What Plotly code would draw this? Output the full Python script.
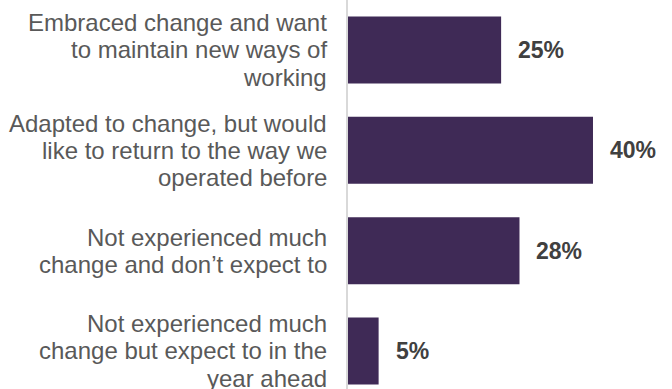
import plotly.graph_objects as go

categories = [
    "Embraced change and want<br>to maintain new ways of<br>working",
    "Adapted to change, but would<br>like to return to the way we<br>operated before",
    "Not experienced much<br>change and don\u2019t expect to",
    "Not experienced much<br>change but expect to in the<br>year ahead",
]
values = [25, 40, 28, 5]
value_labels = ["25%", "40%", "28%", "5%"]

BAR_COLOR = "#3f2a56"
LABEL_COLOR = "#595959"
VALUE_COLOR = "#404040"
FONT = "Liberation Sans, Arial, sans-serif"
LABEL_SIZE = 24
LINE_STEP = 27.2

fig = go.Figure()
fig.add_trace(go.Bar(
    x=values,
    y=categories,
    orientation="h",
    marker=dict(color=BAR_COLOR, line=dict(width=0)),
    hoverinfo="skip",
))

# value labels
for cat, v, lab in zip(categories, values, value_labels):
    fig.add_annotation(
        x=v, y=cat, xref="x", yref="y",
        text="<b>" + lab + "</b>",
        showarrow=False, xanchor="left", yanchor="middle",
        xshift=15,
        font=dict(family=FONT, size=23, color=VALUE_COLOR),
    )

# category labels, one annotation per line for tighter line spacing
for cat in categories:
    lines = cat.split("<br>")
    n = len(lines)
    for j, line in enumerate(lines):
        fig.add_annotation(
            x=0, y=cat, xref="paper", yref="y",
            text=line,
            showarrow=False, xanchor="right", yanchor="middle",
            xshift=-19,
            yshift=-(j - (n - 1) / 2) * LINE_STEP,
            font=dict(family=FONT, size=LABEL_SIZE, color=LABEL_COLOR),
        )

fig.update_layout(
    width=672, height=389,
    margin=dict(l=348, r=0, t=0, b=0),
    paper_bgcolor="white", plot_bgcolor="white",
    bargap=0.332,
    showlegend=False,
    font=dict(family=FONT, size=LABEL_SIZE, color=LABEL_COLOR),
)
fig.update_xaxes(
    range=[0, 52.9], showgrid=False, zeroline=False,
    showticklabels=False, ticks="",
    showline=False,
)
fig.update_yaxes(
    type="category",
    range=[3.379, -0.498],
    showgrid=False, zeroline=False,
    showline=True, linecolor="#d9d9d9", linewidth=2,
    ticks="", showticklabels=False,
)

fig.write_html("out.html")
